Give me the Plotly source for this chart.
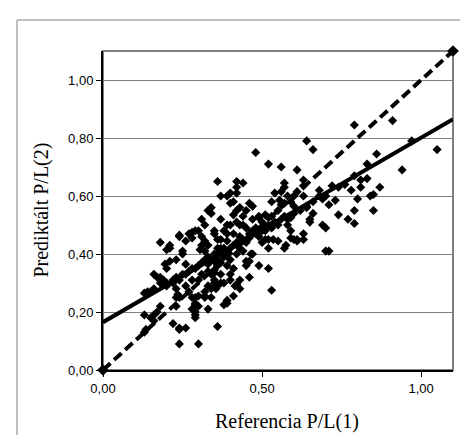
import plotly.graph_objects as go

# Scatter data (Referencia P/L(1), Prediktált P/L(2))
pts = [
    (0.79,0.845),(0.91,0.86),(0.64,0.79),(0.66,0.76),(0.48,0.75),(0.86,0.745),(1.05,0.76),(0.52,0.71),
    (0.56,0.70),(0.61,0.69),(0.83,0.71),(0.94,0.69),(0.97,0.79),
    (0.36,0.65),(0.42,0.65),(0.44,0.645),(0.42,0.63),(0.42,0.61),(0.57,0.645),(0.57,0.63),(0.63,0.655),
    (0.63,0.635),(0.79,0.67),(0.83,0.66),(0.81,0.655),(0.81,0.63),(0.78,0.62),(0.87,0.63),(0.84,0.60),
    (0.85,0.605),(0.80,0.59),(0.73,0.585),(0.85,0.55),(0.79,0.55),(0.74,0.535),(0.77,0.52),(0.79,0.505),
    (0.72,0.635),(0.68,0.62),(0.69,0.59),
    (0.37,0.60),(0.39,0.60),(0.40,0.61),(0.40,0.575),(0.34,0.56),(0.34,0.54),(0.43,0.56),(0.42,0.55),
    (0.41,0.535),(0.46,0.575),(0.47,0.565),(0.54,0.61),(0.56,0.615),(0.58,0.60),(0.57,0.575),(0.59,0.58),
    (0.60,0.60),(0.61,0.615),(0.63,0.60),(0.53,0.58),(0.555,0.585),(0.56,0.57),(0.60,0.565),(0.64,0.565),
    (0.66,0.54),(0.71,0.57),(0.65,0.52),(0.69,0.50),(0.65,0.51),(0.58,0.50),(0.59,0.525),(0.53,0.50),
    (0.49,0.53),(0.51,0.535),(0.52,0.525),(0.49,0.525),(0.31,0.52),(0.29,0.48),(0.35,0.48),(0.39,0.50),
    (0.30,0.48),(0.28,0.455),(0.24,0.465),(0.26,0.445),(0.18,0.44),(0.21,0.43),(0.20,0.415),(0.25,0.41),
    (0.31,0.46),(0.32,0.445),(0.33,0.43),(0.305,0.415),(0.35,0.47),(0.36,0.45),(0.38,0.42),(0.38,0.40),
    (0.27,0.47),(0.28,0.475),(0.36,0.42),(0.37,0.37),(0.25,0.40),(0.31,0.43),(0.32,0.41),(0.21,0.375),
    (0.40,0.50),(0.42,0.51),(0.43,0.50),(0.49,0.48),(0.46,0.47),(0.48,0.49),(0.51,0.48),(0.59,0.48),
    (0.59,0.455),(0.61,0.45),(0.63,0.47),(0.63,0.45),(0.60,0.45),(0.61,0.445),(0.70,0.49),(0.71,0.41),
    (0.70,0.41),(0.52,0.42),(0.57,0.42),(0.575,0.43),(0.55,0.445),(0.535,0.45),(0.52,0.45),(0.47,0.40),
    (0.465,0.40),(0.45,0.375),(0.45,0.36),(0.49,0.36),(0.52,0.35),(0.46,0.32),(0.43,0.31),(0.43,0.28),
    (0.415,0.29),(0.40,0.33),(0.40,0.31),(0.35,0.31),(0.36,0.29),(0.34,0.28),(0.53,0.275),(0.41,0.255),
    (0.39,0.24),(0.38,0.225),(0.36,0.15),(0.45,0.49),(0.43,0.46),(0.46,0.455),(0.465,0.465),(0.50,0.44),
    (0.51,0.45),(0.39,0.445),(0.37,0.42),(0.36,0.40),(0.35,0.375),(0.35,0.335),(0.35,0.345),(0.46,0.375),
    (0.42,0.295),
    (0.16,0.33),(0.18,0.32),(0.20,0.35),(0.13,0.265),(0.15,0.27),(0.16,0.28),(0.18,0.30),(0.20,0.29),
    (0.22,0.31),(0.23,0.32),(0.23,0.28),(0.235,0.26),(0.24,0.25),(0.27,0.27),(0.28,0.25),(0.29,0.23),
    (0.29,0.20),(0.28,0.21),(0.29,0.19),(0.30,0.31),(0.30,0.255),(0.32,0.255),(0.33,0.29),(0.34,0.33),
    (0.35,0.30),(0.37,0.30),(0.33,0.365),(0.29,0.35),(0.27,0.34),(0.26,0.365),(0.25,0.33),(0.18,0.22),
    (0.17,0.20),(0.16,0.19),(0.15,0.18),(0.135,0.14),(0.13,0.13),(0.13,0.19),(0.22,0.16),(0.24,0.145),
    (0.24,0.14),(0.24,0.09),(0.30,0.09),(0.39,0.23),(0.195,0.365),(0.23,0.38),(0.19,0.31),(0.17,0.32),
    (0.37,0.33),(0.38,0.30),(0.355,0.28),(0.32,0.27),(0.34,0.25),(0.32,0.25),(0.29,0.25),(0.29,0.225),
    (0.30,0.22),(0.29,0.18),(0.14,0.27),(0.16,0.17),(0.26,0.145),(0.33,0.21),(0.23,0.25),(0.23,0.22),
    (0.21,0.42),(0.24,0.46),(0.33,0.55),
    (0.30,0.36),(0.31,0.37),(0.32,0.38),(0.33,0.39),(0.34,0.38),(0.35,0.40),(0.36,0.38),(0.37,0.41),
    (0.38,0.39),(0.39,0.41),(0.40,0.42),(0.41,0.43),(0.42,0.44),(0.43,0.42),(0.44,0.45),(0.45,0.44),
    (0.46,0.46),(0.47,0.48),(0.48,0.47),(0.49,0.46),(0.50,0.48),(0.51,0.49),(0.52,0.50),(0.53,0.49),
    (0.54,0.51),(0.55,0.50),(0.56,0.52),(0.57,0.53),(0.58,0.52),(0.60,0.54),(0.62,0.55),(0.64,0.56),
    (0.66,0.58),(0.68,0.60),(0.70,0.60),(0.74,0.63),(0.76,0.64),(0.28,0.35),(0.26,0.33),(0.24,0.31),
    (0.22,0.30),(0.20,0.30),(0.40,0.38),(0.42,0.40),(0.44,0.41),(0.41,0.47),(0.39,0.47),(0.37,0.45),
    (0.38,0.48),(0.44,0.50),(0.47,0.52),(0.50,0.51),(0.53,0.53),(0.55,0.55),(0.33,0.34),(0.36,0.36),
    (0.39,0.36),(0.41,0.35),(0.31,0.33),(0.28,0.31),(0.26,0.29),(0.44,0.53),(0.41,0.58),(0.45,0.55),
    (0.32,0.50),(0.37,0.52),
]
ref_x = [p[0] for p in pts]
pred_y = [p[1] for p in pts]

# Regression line and identity line
fit_x = [0.0, 1.1]
fit_y = [0.165, 0.865]
diag_x = [0.0, 1.1]
diag_y = [0.0, 1.1]

y_ticks = [0.0, 0.2, 0.4, 0.6, 0.8, 1.0]
x_ticks = [0.0, 0.5, 1.0]

fig = go.Figure()
fig.add_trace(go.Scatter(x=ref_x, y=pred_y, mode="markers",
                         marker=dict(symbol="diamond", size=7, color="black"),
                         showlegend=False))
fig.add_trace(go.Scatter(x=fit_x, y=fit_y, mode="lines",
                         line=dict(color="black", width=4), showlegend=False))
fig.add_trace(go.Scatter(x=diag_x, y=diag_y, mode="lines+markers",
                         line=dict(color="black", width=4, dash="10px,5px"),
                         marker=dict(symbol="diamond", size=9, color="black"),
                         cliponaxis=False, showlegend=False))

fig.update_layout(
    width=468, height=435,
    margin=dict(l=95, r=23, t=43, b=73),
    paper_bgcolor="white", plot_bgcolor="white",
    separators=",.",
    xaxis=dict(range=[0, 1.1], tickvals=x_ticks, tickformat=".2f",
               showgrid=False, zeroline=False, showline=True, linecolor="black",
               linewidth=2, ticks="outside", ticklen=5, tickcolor="black",
               tickfont=dict(family="Liberation Sans, Arial", size=13, color="black")),
    yaxis=dict(range=[0, 1.1], tickvals=y_ticks, tickformat=".2f",
               showgrid=True, gridcolor="#808080", gridwidth=1,
               zeroline=False, showline=True, linecolor="black",
               linewidth=2, ticks="outside", ticklen=5, tickcolor="black",
               tickfont=dict(family="Liberation Sans, Arial", size=13, color="black")),
    shapes=[
        dict(type="rect", xref="paper", yref="paper", x0=0, y0=0, x1=1, y1=1,
             line=dict(color="#808080", width=2), layer="below"),
        dict(type="rect", xref="paper", yref="paper", x0=-0.2457, y0=-0.26,
             x1=1.08, y1=1.0972, line=dict(color="#808080", width=1), layer="below"),
    ],
    annotations=[
        dict(text="Referencia P/L(1)", xref="paper", yref="paper", x=0.526, y=-0.16,
             showarrow=False, xanchor="center", yanchor="middle",
             font=dict(family="Liberation Serif, Times New Roman", size=20, color="black")),
        dict(text="Prediktált P/L(2)", xref="paper", yref="paper", x=-0.177, y=0.5,
             showarrow=False, xanchor="center", yanchor="middle", textangle=-90,
             font=dict(family="Liberation Serif, Times New Roman", size=20, color="black")),
    ],
)

fig.write_html("out.html")
